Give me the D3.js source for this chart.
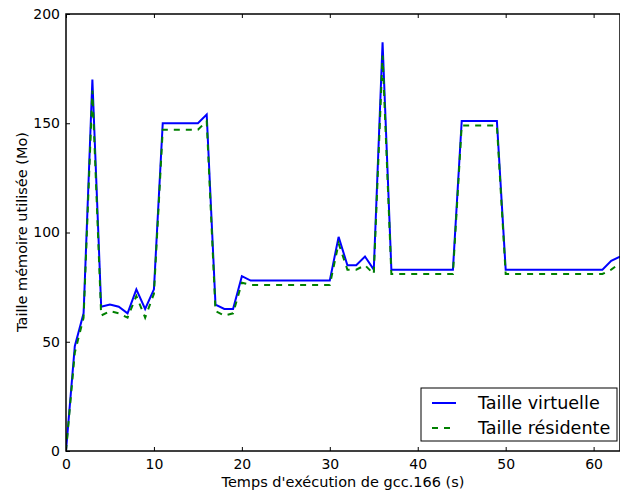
<!DOCTYPE html>
<html><head><meta charset="utf-8">
<script src="https://cdn.jsdelivr.net/npm/d3@7"></script>
<style>body{margin:0;background:#fff}svg{display:block;font-family:"DejaVu Sans",sans-serif}</style>
</head><body>
<svg id="c" width="620" height="493"></svg>
<script>
const times = d3.range(0, 64);
const virtuelle = [0,48,63,170,66,67,66,63,74,65,74,150,150,150,150,150,154,67,65,65,80,78,78,78,78,78,78,78,78,78,78,98,85,85,89,83,187,83,83,83,83,83,83,83,83,151,151,151,151,151,83,83,83,83,83,83,83,83,83,83,83,83,87,89];
const residente = [0,45,61,165,62,64,63,61,71,61,72,147,147,147,147,147,151,64,62,63,77,76,76,76,76,76,76,76,76,76,76,95,83,83,85,81,181,81,81,81,81,81,81,81,81,149,149,149,149,149,81,81,81,81,81,81,81,81,81,81,81,81,83,86];
const xTicks = [0,10,20,30,40,50,60];
const yTicks = [0,50,100,150,200];
const seriesNames = ["Taille virtuelle","Taille résidente"];

const svg = d3.select("#c");
const L=66, R=620, T=14, B=451;
const x = d3.scaleLinear().domain([0,63]).range([L,R]);
const y = d3.scaleLinear().domain([0,200]).range([B,T]);

const line = d3.line().x((d,i)=>x(times[i])).y(d=>y(d));
svg.append("clipPath").attr("id","pc").append("rect").attr("x",L).attr("y",T).attr("width",R-L).attr("height",B-T);
const g = svg.append("g").attr("clip-path","url(#pc)");
g.append("path").datum(virtuelle).attr("d",line).attr("fill","none").attr("stroke","#0000ff").attr("stroke-width",2);
g.append("path").datum(residente).attr("d",line).attr("fill","none").attr("stroke","#008000").attr("stroke-width",2).attr("stroke-dasharray","6,6");

svg.append("rect").attr("x",L).attr("y",T).attr("width",R-L).attr("height",B-T).attr("fill","none").attr("stroke","#000").attr("stroke-width",1.5);

const xb = svg.append("g").attr("transform",`translate(0,${B})`).call(d3.axisBottom(x).tickValues(xTicks).tickSize(-4).tickPadding(8));
const xt = svg.append("g").attr("transform",`translate(0,${T})`).call(d3.axisTop(x).tickValues(xTicks).tickSize(-4).tickFormat(""));
const yl = svg.append("g").attr("transform",`translate(${L},0)`).call(d3.axisLeft(y).tickValues(yTicks).tickSize(-4).tickPadding(6));
[xb,xt,yl].forEach(a=>{a.select(".domain").remove();a.selectAll("line").attr("stroke","#000").attr("stroke-width",1);a.selectAll("text").attr("font-size",14).attr("font-family","DejaVu Sans").attr("fill","#000");});

svg.append("text").attr("x",343).attr("y",487).attr("text-anchor","middle").attr("font-size",14.5).text("Temps d'exécution de gcc.166 (s)");
svg.append("text").attr("transform","translate(27,232) rotate(-90)").attr("text-anchor","middle").attr("font-size",14.5).text("Taille mémoire utilisée (Mo)");

const lg = svg.append("g");
lg.append("rect").attr("x",421).attr("y",388).attr("width",196).attr("height",53).attr("fill","#fff").attr("stroke","#000").attr("stroke-width",1);
const colors=["#0000ff","#008000"], dashes=[null,"6,6"];
seriesNames.forEach((n,i)=>{
  const yy = 403 + i*25;
  lg.append("line").attr("x1",432).attr("x2",456).attr("y1",yy).attr("y2",yy).attr("stroke",colors[i]).attr("stroke-width",2).attr("stroke-dasharray",dashes[i]);
  lg.append("text").attr("x",478).attr("y",yy+6).attr("font-size",17.6).text(n);
});
</script>
</body></html>
